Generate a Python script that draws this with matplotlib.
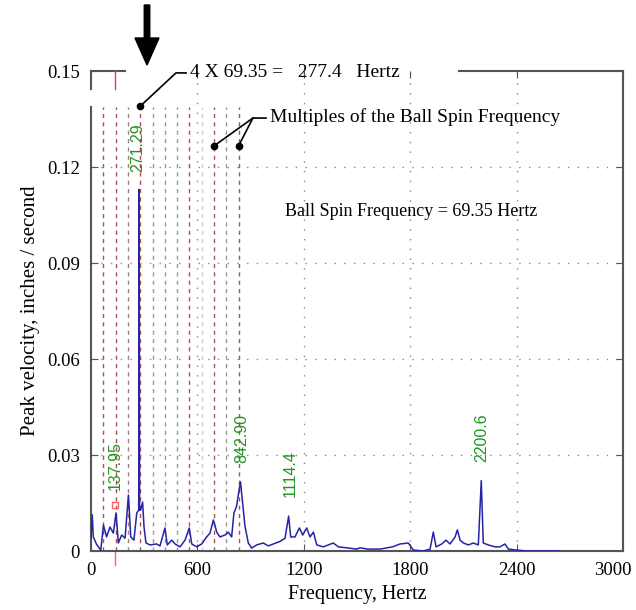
import matplotlib
matplotlib.use('Agg')
import matplotlib.pyplot as plt
import matplotlib.transforms as mtransforms
from matplotlib.patches import FancyArrow

# spectrum (Hz, inches/second)
freq = [0, 7, 13, 32, 55, 70, 88, 107, 126, 141, 154, 173, 192, 211, 224, 242, 258, 269,
        271.29, 274, 280, 291, 299, 310, 333, 370, 389, 417, 430, 455, 474, 502, 530, 554,
        568, 596, 624, 652, 671, 690, 709, 727, 756, 774, 793, 806, 821, 835, 842.9, 855,
        868, 887, 906, 934, 971, 1000, 1028, 1066, 1094, 1114.4, 1126, 1150, 1175, 1194,
        1216, 1235, 1254, 1273, 1310, 1366, 1395, 1442, 1498, 1517, 1560, 1630, 1700, 1743,
        1789, 1818, 1874, 1912, 1930, 1946, 1978, 2002, 2024, 2053, 2066, 2081, 2100, 2128,
        2156, 2184, 2200.6, 2212, 2240, 2278, 2306, 2334, 2353, 2400, 2457, 2532, 2635]
vel = [0.004, 0.0113, 0.0044, 0.002, 0.0003, 0.0081, 0.0044, 0.0075, 0.0056, 0.0119, 0.0025,
       0.005, 0.004, 0.0175, 0.0044, 0.0034, 0.0119, 0.0128,
       0.113, 0.0128, 0.0128, 0.0153, 0.0075, 0.0025, 0.0019, 0.0022, 0.0016, 0.0072, 0.0019,
       0.0034, 0.0022, 0.0013, 0.0034, 0.0072,
       0.0022, 0.0013, 0.0022, 0.0044, 0.0056, 0.0097, 0.0059, 0.0044, 0.005, 0.0059, 0.0044,
       0.0119, 0.014, 0.0191, 0.0216, 0.015,
       0.0078, 0.0025, 0.0009, 0.0019, 0.0025, 0.0016, 0.0022, 0.003, 0.004, 0.0109, 0.0044,
       0.0044, 0.0072, 0.005,
       0.0072, 0.0044, 0.0059, 0.0019, 0.0013, 0.0025, 0.0013, 0.001, 0.0006, 0.001, 0.0006,
       0.0006, 0.0013, 0.0022,
       0.0025, 0.0003, 0.0, 0.0006, 0.0059, 0.0013, 0.0022, 0.0034, 0.0022, 0.0044, 0.0066,
       0.0034, 0.0025, 0.0019,
       0.0025, 0.0019, 0.022, 0.0025, 0.0019, 0.0013, 0.0013, 0.0022, 0.0006, 0.0003, 0.0,
       0.0, 0.0]

ball_spin = 69.35
n_multiples = 12
multiple_colors = ['#b05050', '#b05050', '#a08080', '#b05050', '#999999', '#999999',
                   '#999999', '#b05050', '#cccccc', '#b05050', '#999999', '#b05050']

peak_labels = ['137.95', '271.29', '842.90', '1114.4', '2200.6']
peak_freq = [135, 265, 851, 1122, 2205]
peak_ybase = [0.0191, 0.1184, 0.0275, 0.0169, 0.0278]

xticks = [0, 600, 1200, 1800, 2400, 3000]
yticks = [0, 0.03, 0.06, 0.09, 0.12, 0.15]
ytick_labels = ['0', '0.03', '0.06', '0.09', '0.12', '0.15']

serif = 'Liberation Serif'
edge = '#555555'

fig = plt.figure(figsize=(6.36, 6.10), dpi=100)
ax = fig.add_axes([0.1431, 0.0967, 0.8365, 0.7869])

ax.set_xlim(0, 3000)
ax.set_ylim(0, 0.15)
ax.set_xticks(xticks)
ax.set_yticks(yticks)
ax.set_yticklabels(ytick_labels)
ax.tick_params(direction='in', length=5, top=True, right=True, pad=8,
               labelsize=13.5, color=edge)
for lab in ax.get_xticklabels() + ax.get_yticklabels():
    lab.set_family(serif)
# last x label sits a bit to the left so it is not cut
last = ax.get_xticklabels()[-1]
last.set_transform(last.get_transform() +
                   mtransforms.ScaledTranslation(-10 / 100, 0, fig.dpi_scale_trans))

# grid only on the inner ticks
for xv in xticks[1:-1]:
    ax.axvline(xv, color='#888888', lw=1, linestyle=(0, (1, 6)), zorder=1)
for yv in yticks[1:-1]:
    ax.axhline(yv, color='#888888', lw=1, linestyle=(0, (1, 6)), zorder=1)

# spines: top and left have gaps where the notes sit
for s in ['top', 'left']:
    ax.spines[s].set_visible(False)
for s in ['bottom', 'right']:
    ax.spines[s].set_color(edge)
    ax.spines[s].set_linewidth(1.5)
ax.plot([0, 192], [0.15, 0.15], color=edge, lw=1.5, clip_on=False)
ax.plot([2075, 3000], [0.15, 0.15], color=edge, lw=1.5, clip_on=False)
ax.plot([0, 0], [0, 0.1388], color=edge, lw=1.5, clip_on=False)
ax.plot([0, 0], [0.1444, 0.15], color=edge, lw=1.5, clip_on=False)

# multiples of ball spin frequency
for k in range(1, n_multiples + 1):
    ax.plot([k * ball_spin, k * ball_spin], [0, 0.1388], color=multiple_colors[k - 1],
            lw=1, linestyle=(0, (3, 3)), zorder=2)

# cursor at 137.95
ax.plot([137.95, 137.95], [0.1444, 0.15], color='#e04040', lw=1, clip_on=False)
ax.plot([137.95, 137.95], [-0.0045, 0.0], color='#ff6060', lw=1, clip_on=False)
ax.plot([137.95], [0.0143], marker='s', ms=5, mfc='none', mec='#ff6060', mew=1)

ax.plot(freq, vel, color='#2424a6', lw=1.1, zorder=3)

for lab, f, yb in zip(peak_labels, peak_freq, peak_ybase):
    ax.text(f, yb, lab, rotation=90, ha='center', va='bottom', color='#1e961e',
            fontsize=11.5, family='Liberation Sans')

# notes with leader lines
ax.plot([277.4, 479, 536], [0.139, 0.1494, 0.1494], color='black', lw=1.2, clip_on=False)
ax.plot([277.4], [0.139], 'o', color='black', ms=4.5, clip_on=False)
ax.text(558, 0.1494, '4 X 69.35 =   277.4   Hertz', va='center', ha='left',
        fontsize=14, family=serif)

ax.plot([694, 913, 987], [0.1266, 0.1353, 0.1353], color='black', lw=1.2)
ax.plot([832, 913], [0.1266, 0.1353], color='black', lw=1.2)
ax.plot([694, 832], [0.1266, 0.1266], 'o', color='black', ms=4.5, lw=0)
ax.text(1009, 0.1356, 'Multiples of the Ball Spin Frequency', va='center', ha='left',
        fontsize=14, family=serif)

ax.text(1094, 0.106, 'Ball Spin Frequency = 69.35 Hertz', va='center', ha='left',
        fontsize=13, family=serif)

ax.set_xlabel('Frequency, Hertz', fontsize=14.5, family=serif, labelpad=4)
ax.set_ylabel('Peak velocity, inches / second', fontsize=15, family=serif, labelpad=5)

# big arrow at the top
arrow = FancyArrow(1.47, 6.05, 0, -0.60, width=0.055, head_width=0.24, head_length=0.27,
                   length_includes_head=True, color='black',
                   transform=fig.dpi_scale_trans)
fig.patches.append(arrow)

fig.savefig('out.png', dpi=100)
